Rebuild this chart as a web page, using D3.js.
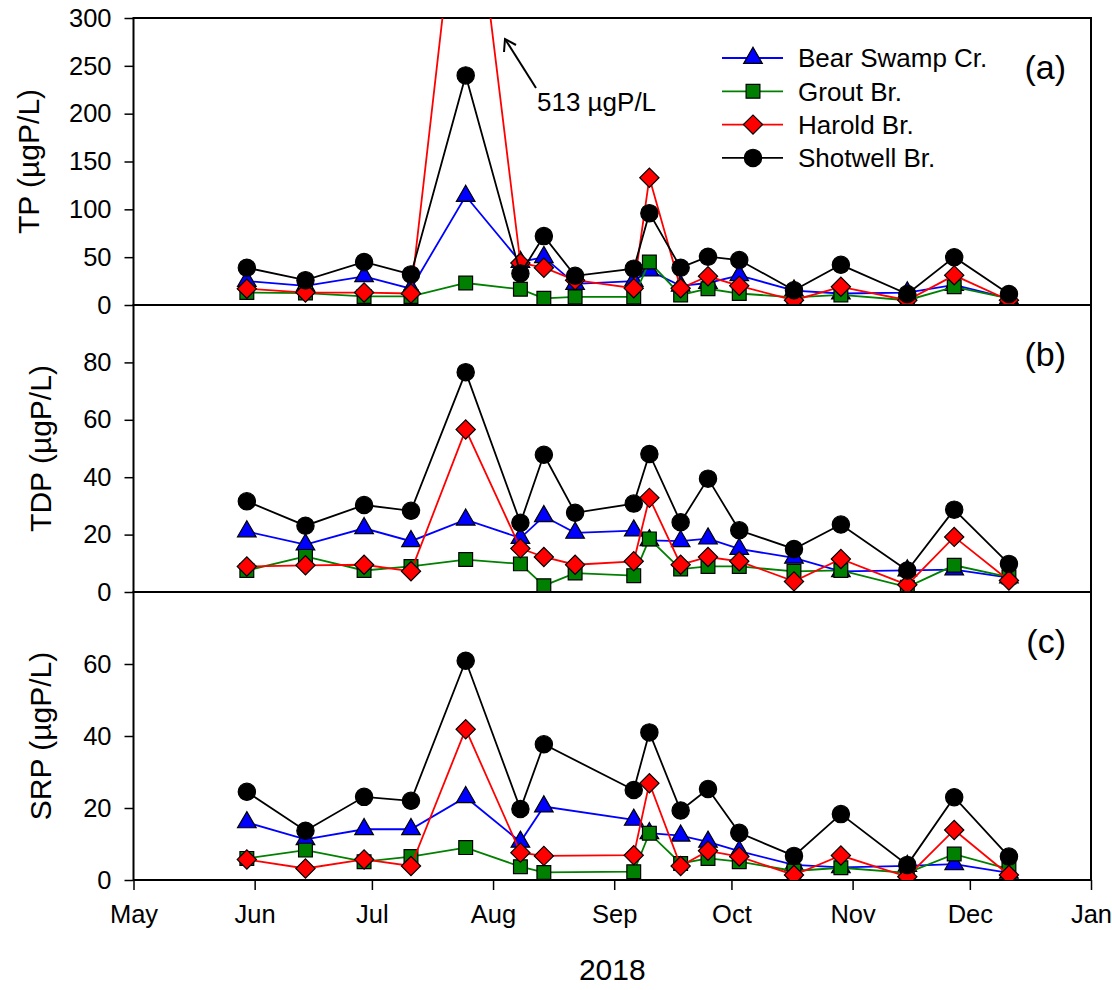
<!DOCTYPE html>
<html>
<head>
<meta charset="utf-8">
<script src="https://cdn.jsdelivr.net/npm/d3@7"></script>
<style>
  body { margin: 0; background: #fff; }
  svg text { font-family: "Liberation Sans", Arial, sans-serif; fill: #000; }
</style>
</head>
<body>
<svg id="chart" width="1112" height="990"></svg>
<script>
// sampling dates
const dates = ['2018-05-30','2018-06-14','2018-06-29','2018-07-11','2018-07-25','2018-08-08','2018-08-14',
  '2018-08-22','2018-09-06','2018-09-10','2018-09-18','2018-09-25','2018-10-03','2018-10-17','2018-10-29',
  '2018-11-15','2018-11-27','2018-12-11'];

const sites = ['Bear Swamp Cr.', 'Grout Br.', 'Harold Br.', 'Shotwell Br.'];

// TP (ugP/L)
const tpBear     = [25, 20, 30, 17, 114, 45, 50, 22, 25, 36, 20, 23, 31, 15, 12, 13, 21, 7];
const tpGrout    = [13, 12.5, 9, 9, 23, 16.5, 7, 8.5, 8.5, 45, 10.5, 17, 12, 8, 10.5, 5, 19, 7];
const tpHarold   = [17, 13, 13, 12, 513, 44, 39, 26, 17.5, 133, 17.5, 30, 20, 5, 19, 5, 31, 5];
const tpShotwell = [39, 26, 45, 32, 240, 33, 72, 30.5, 38, 96, 39, 50.5, 47, 15.5, 42, 11.5, 50, 11.5];

// TDP (ugP/L)
const tdpBear     = [21.1, 16.5, 22.2, 17.7, 25.2, 18.8, 26.4, 20.6, 21.4, 18, 17.7, 18.6, 15.0, 11.9, 7.2, 7.5, 7.8, 5];
const tdpGrout    = [7.5, 12.4, 7.5, 8.9, 11.3, 9.8, 2.2, 6.6, 5.7, 18.5, 8.0, 8.9, 8.9, 7.2, 7.5, 1.7, 9.3, 5.2];
const tdpHarold   = [8.9, 9.3, 9.5, 7.2, 56.6, 15.2, 12.2, 9.5, 10.7, 32.8, 9.5, 12.2, 10.7, 3.7, 11.5, 2.5, 19.2, 4.0];
const tdpShotwell = [31.6, 23.1, 30.3, 28.3, 76.6, 24.1, 47.8, 27.6, 30.8, 48.1, 24.3, 39.5, 21.5, 15.0, 23.5, 7.5, 28.7, 9.8];

// SRP (ugP/L), no sample on Aug 22
const srpBear     = [16.0, 11.3, 14.1, 14.1, 23.0, 10.6, 20.4, null, 16.7, 13, 12.3, 10.6, 8.0, 4.2, 3.5, 3.9, 4.4, 2];
const srpGrout    = [6.0, 8.3, 5.1, 6.5, 9.0, 3.7, 2.1, null, 2.3, 13.0, 4.6, 6.0, 5.1, 2.5, 3.4, 2, 7.2, 3];
const srpHarold   = [5.7, 3.2, 5.7, 3.9, 41.9, 7.6, 6.7, null, 6.9, 26.9, 3.9, 8.1, 6.5, 1.4, 6.8, 0.9, 13.9, 1.4];
const srpShotwell = [24.5, 13.7, 23.1, 22.0, 60.9, 19.7, 37.7, null, 25.0, 41.0, 19.3, 25.3, 13.1, 6.7, 18.3, 4.2, 23.0, 6.5];

const tpTicks  = [0, 50, 100, 150, 200, 250, 300];
const tdpTicks = [0, 20, 40, 60, 80];
const srpTicks = [0, 20, 40, 60];

const colors  = ['#0000ff', '#008000', '#ff0000', '#000000'];
const shapes  = ['triangle', 'square', 'diamond', 'circle'];

const parse = d3.timeParse('%Y-%m-%d');
const svg = d3.select('#chart');
const fontFam = '"Liberation Sans", Arial, sans-serif';

const left = 133.5, right = 1091;
const x = d3.scaleTime()
  .domain([new Date(2018, 4, 1), new Date(2019, 0, 1)])
  .range([left, right]);

const panels = [
  { id: 'a', top: 18,  bottom: 305, max: 300, ticks: tpTicks,  title: 'TP (\u00b5gP/L)',  titleX: 39,
    series: [tpBear, tpGrout, tpHarold, tpShotwell] },
  { id: 'b', top: 305, bottom: 592, max: 100, ticks: tdpTicks, title: 'TDP (\u00b5gP/L)', titleX: 51,
    series: [tdpBear, tdpGrout, tdpHarold, tdpShotwell] },
  { id: 'c', top: 592, bottom: 880, max: 80,  ticks: srpTicks, title: 'SRP (\u00b5gP/L)', titleX: 51,
    series: [srpBear, srpGrout, srpHarold, srpShotwell] }
];

function markerPath(shape) {
  if (shape === 'triangle') return d3.symbol(d3.symbolTriangle, 150)();
  if (shape === 'square') return d3.symbol(d3.symbolSquare, 190)();
  if (shape === 'diamond') return d3.symbol(d3.symbolSquare, 185)();
  return d3.symbol(d3.symbolCircle, 235)();
}

const defs = svg.append('defs');

panels.forEach((p) => {
  const y = d3.scaleLinear().domain([0, p.max]).range([p.bottom, p.top]);

  defs.append('clipPath').attr('id', 'clip-' + p.id)
    .append('rect')
    .attr('x', left).attr('y', p.top)
    .attr('width', right - left).attr('height', p.bottom - p.top);

  // frame
  svg.append('rect')
    .attr('x', left).attr('y', p.top)
    .attr('width', right - left).attr('height', p.bottom - p.top)
    .attr('fill', 'none').attr('stroke', '#000').attr('stroke-width', 2);

  const yAxis = svg.append('g')
    .attr('transform', 'translate(' + left + ',0)')
    .call(d3.axisLeft(y).tickValues(p.ticks).tickSize(9).tickPadding(13));
  yAxis.select('.domain').remove();
  yAxis.selectAll('line').attr('stroke-width', 1.5);
  yAxis.selectAll('text').attr('font-size', 25.5).style('font-family', fontFam);

  svg.append('text')
    .attr('transform', 'translate(' + p.titleX + ',' + ((p.top + p.bottom) / 2) + ') rotate(-90)')
    .attr('text-anchor', 'middle')
    .attr('font-size', 30)
    .text(p.title);

  svg.append('text')
    .attr('x', 1066).attr('y', p.top + 61)
    .attr('text-anchor', 'end')
    .attr('font-size', 34)
    .text('(' + p.id + ')');

  const plot = svg.append('g').attr('clip-path', 'url(#clip-' + p.id + ')');

  p.series.forEach((vals, si) => {
    const pts = dates.map((d, i) => ({ date: parse(d), v: vals[i] })).filter(d => d.v != null);
    const line = d3.line()
      .x(d => x(d.date))
      .y(d => y(d.v));
    plot.append('path')
      .datum(pts)
      .attr('d', line)
      .attr('fill', 'none')
      .attr('stroke', colors[si])
      .attr('stroke-width', 1.8);

    plot.selectAll('.m' + si)
      .data(pts)
      .enter()
      .append('path')
      .attr('class', 'm' + si)
      .attr('d', markerPath(shapes[si]))
      .attr('transform', d => 'translate(' + x(d.date) + ',' + y(d.v) + ')' + (shapes[si] === 'diamond' ? ' rotate(45)' : ''))
      .attr('fill', colors[si])
      .attr('stroke', '#000')
      .attr('stroke-width', 1.2);
  });

  if (p.id === 'a') {
    // legend
    const lg = svg.append('g');
    sites.forEach((s, i) => {
      const ly = 58 + i * 33.3;
      lg.append('line')
        .attr('x1', 722).attr('x2', 783).attr('y1', ly).attr('y2', ly)
        .attr('stroke', colors[i]).attr('stroke-width', 1.8);
      lg.append('path')
        .attr('d', markerPath(shapes[i]))
        .attr('transform', 'translate(753,' + ly + ')' + (shapes[i] === 'diamond' ? ' rotate(45)' : ''))
        .attr('fill', colors[i]).attr('stroke', '#000').attr('stroke-width', 1.2);
      lg.append('text')
        .attr('x', 798).attr('y', ly).attr('dy', '0.36em')
        .attr('font-size', 26)
        .text(s);
    });

    // off-scale annotation
    svg.append('line')
      .attr('x1', 536).attr('y1', 88).attr('x2', 505).attr('y2', 39)
      .attr('stroke', '#000').attr('stroke-width', 2);
    svg.append('path')
      .attr('d', 'M 504 52 L 505 39 L 516 45')
      .attr('fill', 'none').attr('stroke', '#000').attr('stroke-width', 2);
    svg.append('text')
      .attr('x', 537).attr('y', 111)
      .attr('font-size', 26)
      .text('513 \u00b5gP/L');
  }
});

// x axis on bottom panel
const xAxis = svg.append('g')
  .attr('transform', 'translate(0,880)')
  .call(d3.axisBottom(x).ticks(d3.timeMonth.every(1)).tickFormat(d3.timeFormat('%b')).tickSize(10).tickPadding(15));
xAxis.select('.domain').remove();
xAxis.selectAll('line').attr('stroke-width', 1.5);
xAxis.selectAll('text').attr('font-size', 25.5).style('font-family', fontFam);

svg.append('text')
  .attr('x', (left + right) / 2).attr('y', 980)
  .attr('text-anchor', 'middle')
  .attr('font-size', 30)
  .text('2018');
</script>
</body>
</html>
